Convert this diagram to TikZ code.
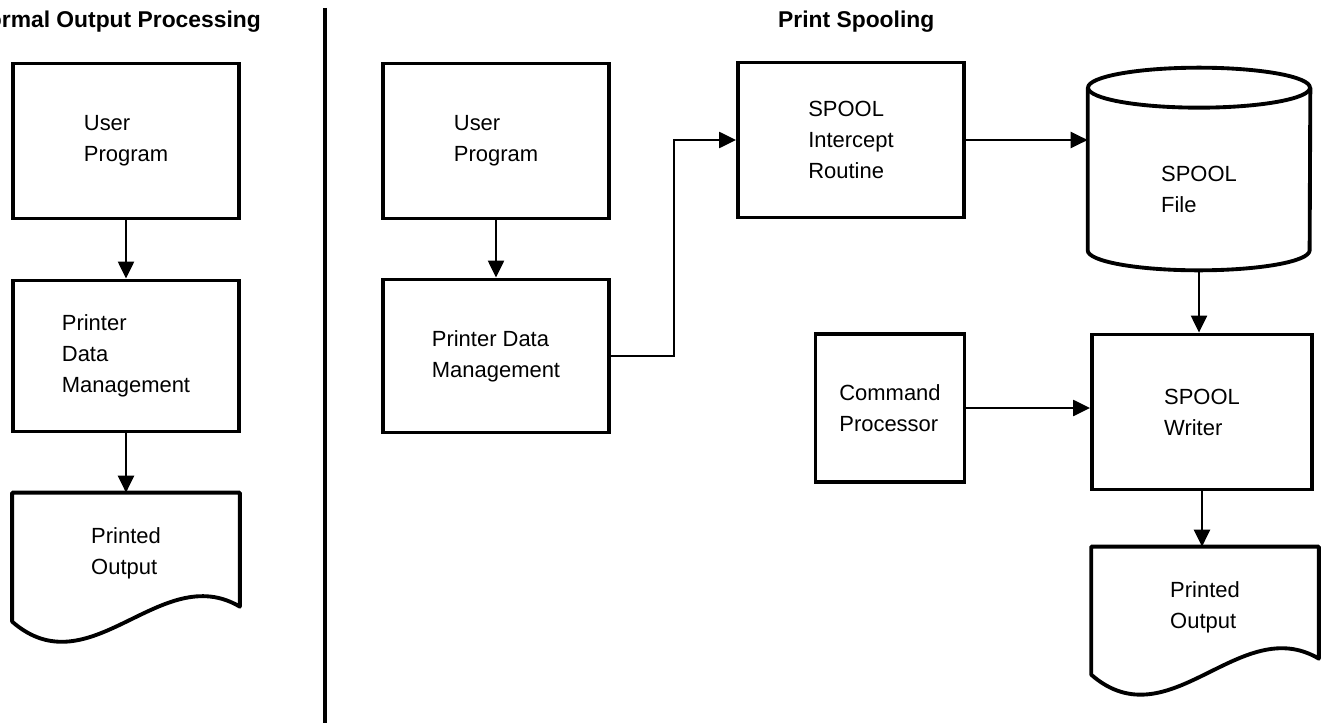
\documentclass[tikz,border=0pt]{standalone}
\usepackage{fontspec}
\setmainfont{Liberation Sans}
\usetikzlibrary{arrows.meta,calc}

\begin{document}
\begin{tikzpicture}[x=0.02cm,y=-0.02cm,
  box/.style={draw,line width=2.2pt,minimum width=4.52cm,minimum height=3.1cm,align=left,font=\fontsize{12.5}{17.6}\selectfont},
  doc/.style={minimum width=4.54cm,minimum height=2.4cm,align=left,font=\fontsize{12.5}{17.6}\selectfont},
  edge/.style={line width=2.2pt,line join=round},
  head/.style={font=\bfseries\fontsize{13}{15}\selectfont},
  arr/.style={-{Triangle[length=0.34cm,width=0.32cm]},line width=1.3pt}]
  \useasboundingbox (0,0) rectangle (1322,723);
  \node[head,anchor=base east] (normal) at (267,28) {Normal Output Processing};
  \node[head,anchor=base west] (spooling) at (772,28) {Print Spooling};
  \draw[line width=2.8pt] (325,8) -- (325,723);

  \node[box] (user1) at (126,141) {User\\Program};
  \node[box,minimum height=3.02cm] (pdm1) at (126,356) {Printer\\Data\\Management};
  \node[doc] (out1) at (126,553) {Printed\\Output};
  \draw[edge] (out1.north west) -- (out1.north east) -- ++(0,114) .. controls +(-79,-47) and +(78,68) .. ($(out1.north west)+(0,129)$) -- cycle;

  \node[box] (user2) at (496,141) {User\\Program};
  \node[box,minimum height=3.06cm] (pdm2) at (496,356) {Printer Data\\Management};
  \node[box] (intercept) at (851,140) {SPOOL\\Intercept\\Routine};
  \node[doc,minimum width=4.44cm,minimum height=3.24cm] (file) at (1199,189) {SPOOL\\File};
  \draw[edge] ([yshift=0.4cm]file.north) ellipse [x radius=2.22cm,y radius=0.4cm];
  \draw[edge] ([yshift=0.4cm]file.north west) -- ([yshift=0.4cm]file.south west) arc [start angle=180,end angle=360,x radius=2.22cm,y radius=0.4cm] -- ([yshift=0.4cm]file.north east);
  \node[box,minimum width=2.98cm,minimum height=2.96cm] (cmd) at (890,408) {Command\\Processor};
  \node[box,minimum width=4.4cm] (writer) at (1202,412) {SPOOL\\Writer};
  \node[doc] (out2) at (1205,607) {Printed\\Output};
  \draw[edge] (out2.north west) -- (out2.north east) -- ++(0,112) .. controls +(-79,-47) and +(78,68) .. ($(out2.north west)+(0,128)$) -- cycle;

  \draw[arr] (user1) -- (pdm1);
  \draw[arr] (pdm1) -- (out1);
  \draw[arr] (user2) -- (pdm2);
  \draw[arr] (pdm2.east) -- ++(63,0) |- (intercept.west);
  \draw[arr] (intercept.east) -- (intercept.east -| file.west);
  \draw[arr] (file.south) -- (file.south |- writer.north);
  \draw[arr] (cmd.east) -- (cmd.east -| writer.west);
  \draw[arr] (writer.south) -- (writer.south |- out2.north);
\end{tikzpicture}
\end{document}
